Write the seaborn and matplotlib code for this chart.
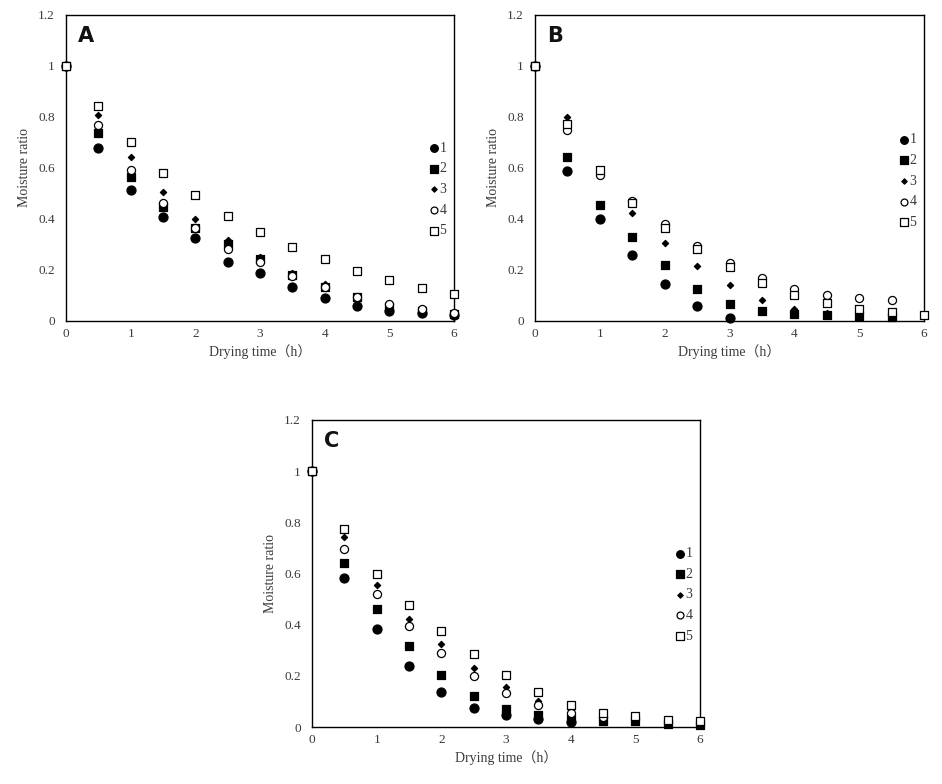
import numpy as np
import pandas as pd
import matplotlib
matplotlib.use("Agg")
import matplotlib.pyplot as plt
import seaborn as sns

sns.set_style("white")
plt.rcParams['font.family'] = ['Liberation Serif', 'Noto Sans CJK SC', 'DejaVu Sans']

time = [0, 0.5, 1, 1.5, 2, 2.5, 3, 3.5, 4, 4.5, 5, 5.5, 6]
series_names = ["1", "2", "3", "4", "5"]
nan = np.nan

# Panel A
A1 = [1.0, 0.677, 0.512, 0.407, 0.324, 0.230, 0.190, 0.132, 0.089, 0.058, 0.040, 0.030, 0.024]
A2 = [1.0, 0.736, 0.563, 0.448, 0.363, 0.300, 0.244, 0.180, 0.135, 0.093, 0.056, 0.040, 0.027]
A3 = [1.0, 0.808, 0.644, 0.506, 0.400, 0.318, 0.250, 0.187, 0.145, 0.095, 0.064, 0.048, 0.030]
A4 = [1.0, 0.767, 0.591, 0.461, 0.363, 0.284, 0.230, 0.175, 0.135, 0.093, 0.067, 0.046, 0.033]
A5 = [1.0, 0.842, 0.700, 0.579, 0.493, 0.410, 0.348, 0.289, 0.242, 0.196, 0.161, 0.128, 0.105]

# Panel B
B1 = [1.0, 0.587, 0.399, 0.260, 0.144, 0.058, 0.010, nan, nan, nan, nan, nan, nan]
B2 = [1.0, 0.643, 0.454, 0.328, 0.218, 0.125, 0.065, 0.038, 0.027, 0.022, 0.021, 0.014, nan]
B3 = [1.0, 0.801, 0.580, 0.425, 0.307, 0.216, 0.141, 0.082, 0.048, 0.030, nan, nan, nan]
B4 = [1.0, 0.749, 0.573, 0.470, 0.380, 0.295, 0.229, 0.170, 0.127, 0.100, 0.089, 0.081, nan]
B5 = [1.0, 0.773, 0.592, 0.464, 0.363, 0.281, 0.213, 0.150, 0.102, 0.069, 0.047, 0.035, 0.024]

# Panel C
C1 = [1.0, 0.581, 0.384, 0.238, 0.135, 0.076, 0.047, 0.033, 0.020, nan, nan, nan, nan]
C2 = [1.0, 0.640, 0.460, 0.317, 0.205, 0.123, 0.070, 0.047, 0.030, 0.022, 0.022, 0.010, 0.007]
C3 = [1.0, 0.744, 0.556, 0.423, 0.324, 0.231, 0.157, 0.100, 0.068, 0.045, nan, nan, nan]
C4 = [1.0, 0.696, 0.518, 0.396, 0.291, 0.200, 0.134, 0.087, 0.056, 0.040, nan, nan, nan]
C5 = [1.0, 0.773, 0.600, 0.477, 0.377, 0.287, 0.205, 0.138, 0.087, 0.056, 0.042, 0.029, 0.025]

panels = {"A": [A1, A2, A3, A4, A5], "B": [B1, B2, B3, B4, B5], "C": [C1, C2, C3, C4, C5]}

styles = [
    dict(marker="o", s=42, color="black", edgecolor="black"),
    dict(marker="s", s=38, color="black", edgecolor="black"),
    dict(marker="D", s=10, color="black", edgecolor="black"),
    dict(marker="o", s=34, color="white", edgecolor="black"),
    dict(marker="s", s=38, color="white", edgecolor="black"),
]

W, H = 942, 784
fig = plt.figure(figsize=(W / 100, H / 100), dpi=100)

rects = {
    "A": (66, 15, 454, 321),
    "B": (535, 15, 924, 321),
    "C": (312, 420, 700, 727),
}
legend_y = {"A": 0.43, "B": 0.457, "C": 0.43}
txt = "#3a3a3a"

for name, (x0, y0, x1, y1) in rects.items():
    ax = fig.add_axes([x0 / W, 1 - y1 / H, (x1 - x0) / W, (y1 - y0) / H])
    for i, vals in enumerate(panels[name]):
        df = pd.DataFrame({"t": time, "mr": vals})
        st = styles[i]
        sns.scatterplot(data=df, x="t", y="mr", ax=ax, marker=st["marker"], s=st["s"],
                        color=st["color"], edgecolor=st["edgecolor"], linewidth=0.9,
                        label=series_names[i], clip_on=False, zorder=3 + i)
    ax.set_xlim(0, 6)
    ax.set_ylim(0, 1.2)
    ax.set_xticks(range(0, 7))
    ax.set_yticks([0, 0.2, 0.4, 0.6, 0.8, 1.0, 1.2])
    ax.set_yticklabels(["0", "0.2", "0.4", "0.6", "0.8", "1", "1.2"])
    ax.tick_params(axis="x", length=0, pad=5, labelsize=9.5, labelcolor=txt)
    ax.tick_params(axis="y", length=0, pad=8, labelsize=9.5, labelcolor=txt)
    for sp in ax.spines.values():
        sp.set_color("black")
        sp.set_linewidth(1.0)
    ax.set_xlabel("Drying time（h）", fontsize=10, color=txt, labelpad=3)
    ax.set_ylabel("Moisture ratio", fontsize=10, color=txt, labelpad=5)
    ax.text(0.03, 0.965, name, transform=ax.transAxes, fontsize=15, fontweight="bold",
            family="DejaVu Sans", va="top", ha="left", color="#111111")
    leg = ax.legend(loc="center right", bbox_to_anchor=(0.995, legend_y[name]), frameon=False,
                    fontsize=10, handletextpad=-0.2, labelspacing=0.55, borderaxespad=0,
                    handlelength=1.2, markerscale=0.85)
    for t in leg.get_texts():
        t.set_color(txt)

fig.savefig("out.png", dpi=100)
